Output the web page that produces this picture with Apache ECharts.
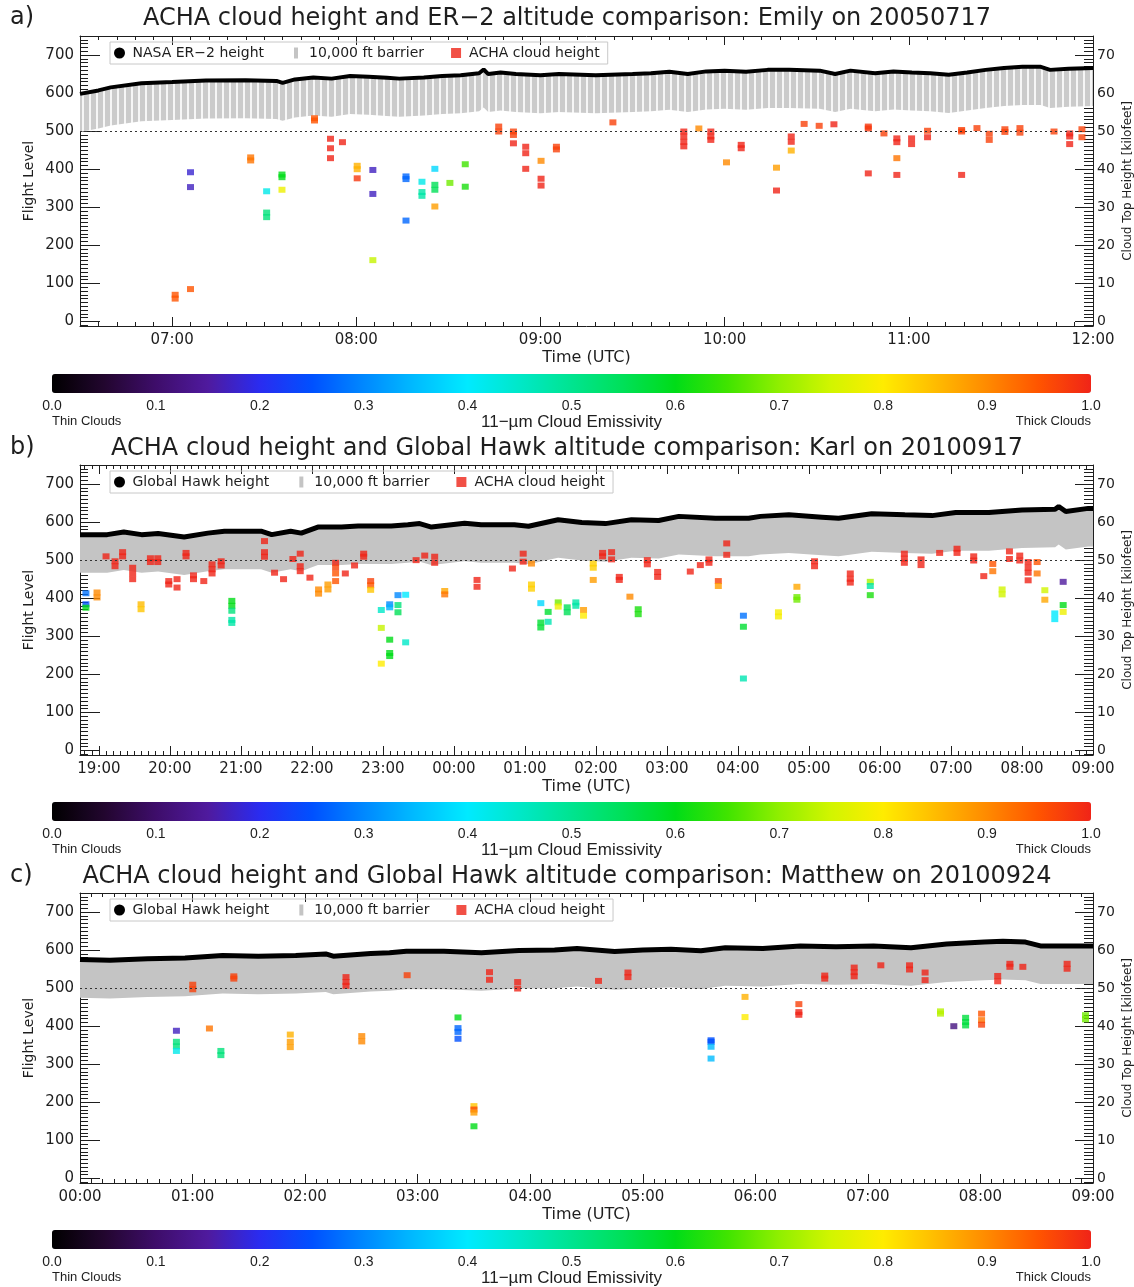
<!DOCTYPE html>
<html><head><meta charset="utf-8">
<script src="https://cdn.jsdelivr.net/npm/echarts@6/dist/echarts.min.js"></script>
<style>html,body{margin:0;padding:0;background:#fff}#chart{width:1134px;height:1287px}</style>
</head><body><div id="chart"></div>
<script>
// ---------------- DATA ----------------
// Times are minutes after 00:00 UTC of the first day of each flight.
const flightTimeA = [390,396,400,410,420,431,444,454,456,460,466,472,478,484,490,494,502,508,514,520,521.5,523,527,532,540,546,558,570,576,582,588,594,600,607,614,621,631,636,641,649,655,661,667,673,679,685,691,697,703,706,712,720];
const flightHeightA = [598,607,615,626,629,633,634,632,627,636,641,638,645,643,640,638,641,645,647,652,662,650,654,650,647,650,647,650,652,656,650,657,659,656,661,661,659,650,659,652,657,654,652,648,654,661,666,669,669,661,664,666];

const flightTimeB = [1124,1147,1161,1176,1190,1212,1232,1246,1260,1277,1286,1302,1311,1325,1345,1359,1373,1387,1401,1411,1421,1449,1463,1491,1503,1528,1548,1568,1590,1613,1630,1661,1689,1699,1723,1751,1765,1793,1821,1844,1864,1892,1920,1948,1951,1957,1976,1980];
const flightHeightB = [567,567,574,567,570,561,571,576,576,576,567,576,571,587,587,590,590,590,593,596,587,597,593,593,589,606,599,596,606,604,615,610,610,615,619,613,610,622,619,617,625,625,632,634,641,628,636,636];

const flightTimeC = [0,16,36,56,76,95,115,131,135,155,165,174,194,214,234,253,265,275,285,300,315,331,344,364,384,403,423,443,462,482,492,504,512,521,540];
const flightHeightC = [575,573,577,579,586,584,586,590,584,591,593,597,597,593,599,600,604,600,596,600,602,598,606,604,611,609,611,606,616,621,623,621,611,611,611];

// ACHA cloud retrievals: [time (min), flight level, 11-um emissivity]
const cloudsA = [
[421,70,0.95],[421,60,0.95],[426,85,0.95],[426,392,0.18],[426,353,0.17],
[445.6,431,0.92],[445.6,423,0.92],[450.8,342,0.42],[450.8,286,0.52],[450.8,274,0.52],
[455.8,386,0.6],[455.8,379,0.6],[455.8,346,0.78],[466.4,534,0.95],[466.4,528,0.95],
[471.6,480,1.0],[471.6,455,1.0],[471.6,429,1.0],[475.5,471,1.0],
[480.3,409,0.86],[480.3,400,0.86],[480.3,376,0.98],
[485.4,398,0.17],[485.4,335,0.17],[485.4,161,0.74],
[496.2,381,0.27],[496.2,374,0.27],[496.2,265,0.27],
[501.4,367,0.42],[501.4,340,0.48],[501.4,330,0.48],
[505.6,401,0.38],[505.6,359,0.55],[505.6,346,0.55],[505.6,302,0.88],
[510.5,364,0.68],[515.5,413,0.65],[515.5,354,0.62],
[526.4,512,0.97],[526.4,499,0.97],[531.2,499,0.97],[531.2,490,0.97],[531.2,468,1.0],
[535.2,459,1.0],[535.2,442,1.0],[535.2,401,1.0],[540.2,422,0.9],[540.2,375,1.0],[540.2,357,1.0],
[545.2,459,0.97],[545.2,452,0.97],[563.6,523,0.97],
[586.7,499,1.0],[586.7,486,1.0],[586.7,472,1.0],[586.7,460,1.0],[591.6,507,0.9],
[595.5,499,1.0],[595.5,486,1.0],[595.5,477,1.0],[600.6,418,0.9],[605.4,464,1.0],[605.4,455,1.0],
[616.9,404,0.88],[616.9,344,1.0],[621.7,486,1.0],[621.7,472,1.0],[621.7,449,0.86],
[625.9,519,0.97],[630.8,514,0.97],[635.6,518,1.0],
[646.8,512,0.98],[646.8,507,0.98],[646.8,389,1.0],[651.9,494,0.97],
[656.1,481,1.0],[656.1,471,1.0],[656.1,429,0.92],[656.1,385,1.0],[660.9,481,1.0],[660.9,466,1.0],
[666.1,501,0.97],[666.1,484,1.0],[677.2,503,0.97],[677.2,499,0.97],[677.2,385,1.0],
[682.2,508,0.97],[686.2,493,0.97],[686.2,477,0.97],[691.3,505,0.97],[691.3,498,0.97],
[696.2,508,0.97],[696.2,496,0.97],[707.3,499,0.97],[712.4,494,1.0],[712.4,486,1.0],[712.4,466,1.0],
[716.4,505,0.97],[716.4,484,0.97]
];
const cloudsB = [
[1129,413,0.28],[1129,384,0.25],[1129,375,0.6],[1138.4,415,0.9],[1138.4,402,0.9],
[1146,510,1.0],[1153.6,497,1.0],[1153.6,484,1.0],[1160,521,1.0],[1160,510,1.0],
[1168.5,480,1.0],[1168.5,465,1.0],[1168.5,450,1.0],[1175.6,384,0.85],[1175.6,371,0.84],
[1183.5,505,1.0],[1183.5,495,1.0],[1189.7,505,1.0],[1189.7,495,1.0],
[1199,445,1.0],[1199,436,1.0],[1206,450,1.0],[1206,428,1.0],[1213.6,519,1.0],[1213.6,510,1.0],
[1219.9,460,1.0],[1219.9,450,1.0],[1228.6,445,1.0],[1235.6,489,1.0],[1235.6,476,1.0],[1235.6,465,1.0],
[1243.3,497,1.0],[1243.3,486,1.0],
[1252.3,393,0.6],[1252.3,380,0.6],[1252.3,367,0.52],[1252.3,343,0.48],[1252.3,335,0.48],
[1279.9,550,1.0],[1279.9,521,1.0],[1279.9,509,1.0],[1288.4,467,1.0],[1296,450,1.0],[1303.9,503,1.0],
[1310.1,517,1.0],[1310.1,484,1.0],[1310.1,471,1.0],[1318.3,454,1.0],
[1325.6,423,0.9],[1325.6,412,0.9],[1333.5,436,0.88],[1333.5,423,0.88],
[1340,493,1.0],[1340,480,0.97],[1340,465,0.95],[1340,445,0.95],[1348.2,465,1.0],[1356,486,1.0],
[1363.7,517,1.0],[1363.7,509,1.0],[1369.6,445,0.97],[1369.6,434,0.95],[1369.6,422,0.84],
[1378.6,369,0.45],[1378.6,322,0.74],[1378.6,228,0.8],
[1385.7,384,0.3],[1385.7,376,0.34],[1385.7,291,0.6],[1385.7,256,0.6],[1385.7,248,0.6],
[1392.7,408,0.3],[1392.7,382,0.52],[1392.7,363,0.55],[1399.2,409,0.4],[1399.2,284,0.45],
[1408,500,1.0],[1415.3,512,1.0],[1423.7,509,1.0],[1423.7,493,1.0],[1432.2,419,0.87],[1432.2,410,0.92],
[1459.5,448,1.0],[1459.5,430,1.0],[1489.4,478,1.0],[1498.5,517,1.0],[1498.5,496,1.0],
[1505.5,491,0.9],[1505.5,436,0.83],[1505.5,425,0.83],
[1513.4,387,0.38],[1513.4,336,0.58],[1513.4,323,0.58],[1519.6,364,0.58],[1519.6,338,0.47],
[1528.1,389,0.68],[1528.1,378,0.78],[1535.7,376,0.55],[1535.7,363,0.55],[1543,389,0.48],[1543,380,0.48],
[1549.5,369,0.88],[1549.5,354,0.8],[1557.7,491,0.83],[1557.7,480,0.83],[1557.7,448,0.88],
[1565.6,519,1.0],[1565.6,510,1.0],[1573.2,521,1.0],[1573.2,502,1.0],[1579.7,456,1.0],[1579.7,448,1.0],
[1588.7,404,0.9],[1595.7,371,0.62],[1595.7,358,0.62],[1603.4,500,1.0],[1603.4,489,1.0],
[1612.1,469,1.0],[1612.1,456,1.0],[1639.7,470,1.0],[1648.2,487,1.0],[1655.5,502,1.0],[1655.5,493,1.0],
[1663.4,445,0.97],[1663.4,432,0.88],[1670.5,544,1.0],[1670.5,514,1.0],
[1684.6,354,0.28],[1684.6,325,0.58],[1684.6,189,0.47],
[1714.2,363,0.79],[1714.2,352,0.79],[1729.8,430,0.87],[1729.8,403,0.68],[1729.8,396,0.68],
[1744.7,497,1.0],[1744.7,484,1.0],[1774.9,465,1.0],[1774.9,451,1.0],[1774.9,441,1.0],
[1791.8,443,0.72],[1791.8,432,0.48],[1791.8,408,0.62],
[1820.6,517,1.0],[1820.6,504,1.0],[1820.6,493,1.0],[1834.7,502,1.0],[1834.7,487,1.0],
[1850.4,519,1.0],[1865.1,530,1.0],[1865.1,519,1.0],[1879.2,510,1.0],[1879.2,499,1.0],[1887.7,458,1.0],
[1895.3,490,0.95],[1895.3,471,0.92],[1903.2,423,0.75],[1903.2,410,0.75],
[1909.4,523,1.0],[1909.4,503,1.0],[1918.1,512,1.0],[1918.1,499,1.0],
[1925.2,495,1.0],[1925.2,480,1.0],[1925.2,467,1.0],[1925.2,447,1.0],[1932.8,495,0.95],[1932.8,465,0.92],
[1939.3,421,0.75],[1939.3,396,0.87],[1947.7,360,0.4],[1947.7,345,0.4],
[1954.8,443,0.15],[1954.8,382,0.6],[1954.8,364,0.78]
];
const cloudsC = [
[51.4,388,0.17],[51.4,359,0.52],[51.4,347,0.52],[51.4,335,0.42],[60.1,509,0.97],[60.1,497,0.97],
[69,394,0.92],[75.1,335,0.52],[75.1,324,0.52],[82,531,0.97],[82,525,0.97],
[112.1,378,0.86],[112.1,359,0.88],[112.1,345,0.88],[141.8,529,1.0],[141.8,516,1.0],[141.8,506,1.0],
[150.2,374,0.9],[150.2,360,0.9],[174.4,534,0.97],
[201.5,423,0.6],[201.5,395,0.27],[201.5,385,0.27],[201.5,367,0.25],
[210,190,0.84],[210,181,0.96],[210,173,0.88],[210,137,0.6],
[218.3,542,1.0],[218.3,522,1.0],[233.3,516,1.0],[233.3,499,1.0],[276.4,519,1.0],
[292.1,541,1.0],[292.1,529,1.0],[336.4,363,0.25],[336.4,359,0.25],[336.4,346,0.35],[336.4,315,0.35],
[354.5,477,0.86],[354.5,424,0.8],[383.2,458,0.97],[383.2,437,1.0],[383.2,430,1.0],
[397,533,1.0],[397,525,1.0],[412.7,554,1.0],[412.7,542,1.0],[412.7,531,1.0],[426.9,560,1.0],
[442.2,560,1.0],[442.2,549,1.0],[450.5,541,1.0],[450.5,521,1.0],[458.7,439,0.73],[458.7,433,0.73],
[465.8,400,0.12],[472.1,422,0.57],[472.1,411,0.57],[472.1,402,0.57],
[480.6,433,0.95],[480.6,416,0.92],[480.6,404,0.97],[489.2,532,1.0],[489.2,518,1.0],
[495.7,564,1.0],[495.7,556,1.0],[502.6,556,1.0],[526.2,564,1.0],[526.2,551,1.0],[536,429,0.68],[536,418,0.68]
];

const hourTicksA = ['07:00','08:00','09:00','10:00','11:00','12:00'];
const hourTicksB = ['19:00','20:00','21:00','22:00','23:00','00:00','01:00','02:00','03:00','04:00','05:00','06:00','07:00','08:00','09:00'];
const hourTicksC = ['00:00','01:00','02:00','03:00','04:00','05:00','06:00','07:00','08:00','09:00'];
const flTicks = [0,100,200,300,400,500,600,700];
const kftTicks = [0,10,20,30,40,50,60,70];
const emisTicks = ['0.0','0.1','0.2','0.3','0.4','0.5','0.6','0.7','0.8','0.9','1.0'];
const BARRIER_FL = 100;      // 10,000 ft
const REFERENCE_FL = 500;

// ---------------- STYLE ----------------
const FONT = "'DejaVu Sans', 'Liberation Sans', sans-serif";
const NFONT = "'Liberation Sans', Arial, sans-serif";
const INK = '#1e1e1e';
const GREY = '#c4c4c4';
const RED = '#ee2418';
const RAINBOW = ['#000000','#22062e','#3e0d6a','#4f1a9e','#2a2cf0','#0050ff','#0088ff','#00bcff','#00eaff','#00e8c8','#00e490','#00e058','#00dc18','#40e400','#90ef00','#d2f500','#ffec00','#ffbc00','#ff8a00','#ff5400','#f02418'];

const stripe = document.createElement('canvas');
stripe.width = 7; stripe.height = 4;
const sctx = stripe.getContext('2d');
sctx.fillStyle = '#f6f6f6'; sctx.fillRect(0,0,7,4);
sctx.fillStyle = '#cbcbcb'; sctx.fillRect(0,0,5,4);

const panels = [
 {key:'a', label:'a)', title:'ACHA cloud height and ER\u22122 altitude comparison: Emily on 20050717', plane:'NASA ER\u22122 height',
  top:36, titleTop:7, legendTop:42, cb:374, tMin:390, tMax:720, roll:false, ticks:hourTicksA,
  ft:flightTimeA, fh:flightHeightA, clouds:cloudsA, striped:true, lw:4},
 {key:'b', label:'b)', title:'ACHA cloud height and Global Hawk altitude comparison: Karl on 20100917', plane:'Global Hawk height',
  top:465, titleTop:437, legendTop:471, cb:802, tMin:1124, tMax:1980, roll:true, ticks:hourTicksB,
  ft:flightTimeB, fh:flightHeightB, clouds:cloudsB, striped:false, lw:5},
 {key:'c', label:'c)', title:'ACHA cloud height and Global Hawk altitude comparison: Matthew on 20100924', plane:'Global Hawk height',
  top:893, titleTop:865, legendTop:899, cb:1230, tMin:0, tMax:540, roll:false, ticks:hourTicksC,
  ft:flightTimeC, fh:flightHeightC, clouds:cloudsC, striped:false, lw:5}
];

function parseHM(s, roll){ const p = s.split(':').map(Number); return ((roll && p[0] < 12) ? p[0]+24 : p[0])*60 + p[1]; }

const option = {animation:false, backgroundColor:'#fff', textStyle:{fontFamily:FONT},
  title:[], legend:[], grid:[], xAxis:[], yAxis:[], series:[], visualMap:[], graphic:[]};

const CIRCLE_ICON = 'circle';
const BAR_ICON = 'path://M0,0L0,0M16,11L16,11M6,0L10,0L10,11L6,11Z';
const SQUARE_ICON = 'path://M0,0L0,0M16,11L16,11M3,0.5L13,0.5L13,10.5L3,10.5Z';

panels.forEach(p => {
  const gi = option.grid.length;
  option.grid.push({left:80, top:p.top, width:1013, height:290, outerBoundsMode:'none', containLabel:false});
  const xi = option.xAxis.length, yi = option.yAxis.length;
  const hourVals = p.ticks.map(s => parseHM(s, p.roll));
  const labelOf = {}; hourVals.forEach((v,k) => labelOf[v] = p.ticks[k]);
  const minorX = [];
  for (let m = Math.ceil(p.tMin/6)*6; m <= p.tMax; m += 6) if (hourVals.indexOf(m) < 0) minorX.push(m);
  const lineOn = {show:true, onZero:false, lineStyle:{color:INK, width:1}};
  const lineOff = {show:false, onZero:false};
  const tk = (len, vals) => ({show:true, inside:true, length:len, customValues:vals, lineStyle:{color:INK, width:1}});
  const xb = {type:'value', gridIndex:gi, min:p.tMin, max:p.tMax, splitLine:{show:false}};
  option.xAxis.push(
    Object.assign({}, xb, {position:'bottom', axisLine:lineOn, axisTick:tk(9, hourVals),
      axisLabel:{customValues:hourVals, formatter:v => labelOf[v] || '', fontSize:15, color:INK, fontFamily:FONT, margin:7},
      name:'Time (UTC)', nameLocation:'middle', nameGap:24, nameMoveOverlap:false, nameTextStyle:{fontSize:16, color:INK, fontFamily:FONT}}),
    Object.assign({}, xb, {position:'bottom', axisLine:lineOff, axisTick:tk(4, minorX), axisLabel:{show:false}}),
    Object.assign({}, xb, {position:'top', axisLine:lineOn, axisTick:tk(9, hourVals), axisLabel:{show:false}}),
    Object.assign({}, xb, {position:'top', axisLine:lineOff, axisTick:tk(4, minorX), axisLabel:{show:false}})
  );
  const minorFL = []; for (let v = -10; v <= 740; v += 10) if (v % 100 !== 0) minorFL.push(v);
  const minorK = []; for (let v = -1; v <= 74; v += 1) if (v % 10 !== 0) minorK.push(v);
  const yb = {type:'value', gridIndex:gi, splitLine:{show:false}};
  option.yAxis.push(
    Object.assign({}, yb, {position:'left', min:-12, max:750, axisLine:lineOn, axisTick:tk(20, flTicks),
      axisLabel:{customValues:flTicks, fontSize:15, color:INK, fontFamily:FONT, margin:6},
      name:'Flight Level', nameLocation:'middle', nameGap:44, nameRotate:90, nameMoveOverlap:false, nameTextStyle:{fontSize:14, color:INK, fontFamily:FONT}}),
    Object.assign({}, yb, {position:'left', min:-12, max:750, axisLine:lineOff, axisTick:tk(8, minorFL), axisLabel:{show:false}}),
    Object.assign({}, yb, {position:'right', min:-1.2, max:75, axisLine:lineOn, axisTick:tk(18, kftTicks),
      axisLabel:{customValues:kftTicks, fontSize:14, color:INK, fontFamily:FONT, margin:4},
      name:'Cloud Top Height [kilofeet]', nameLocation:'middle', nameGap:29, nameRotate:90, nameMoveOverlap:false, nameTextStyle:{fontSize:12, color:INK, fontFamily:FONT}}),
    Object.assign({}, yb, {position:'right', min:-1.2, max:75, axisLine:lineOff, axisTick:tk(9, minorK), axisLabel:{show:false}})
  );

  // 10,000 ft barrier: band from (aircraft height - 100 FL) up to aircraft height
  const bandFill = p.striped ? {image:stripe, repeat:'repeat'} : GREY;
  option.series.push({type:'custom', name:'10,000 ft barrier', xAxisIndex:xi, yAxisIndex:yi, silent:true, z:1, clip:true,
    data:p.ft.map((t,k) => [t, p.fh[k] - BARRIER_FL, p.fh[k]]),
    encode:{x:0, y:[1,2]},
    renderItem:(params, api) => {
      if (params.dataIndex !== 0) return null;
      const n = params.dataInsideLength, top = [], bot = [];
      for (let k = 0; k < n; k++) {
        top.push(api.coord([api.value(0,k), api.value(2,k)]));
        bot.push(api.coord([api.value(0,k), api.value(1,k)]));
      }
      return {type:'polygon', shape:{points: top.concat(bot.reverse())}, style:{fill:bandFill, stroke:null}};
    }});
  const si = option.series.length;
  option.series.push({type:'scatter', name:'ACHA cloud height', xAxisIndex:xi, yAxisIndex:yi, data:p.clouds,
    symbol:'rect', symbolSize:[7,6], itemStyle:{color:RED}, z:3, silent:true});
  option.series.push({type:'line', name:p.plane, xAxisIndex:xi, yAxisIndex:yi, symbol:'none', silent:true,
    data:p.ft.map((t,k) => [t, p.fh[k]]), lineStyle:{color:'#000', width:p.lw}, z:4,
    markLine:{silent:true, symbol:['none','none'], label:{show:false}, animation:false,
      lineStyle:{type:[2,3], color:'#333', width:1}, data:[{yAxis:REFERENCE_FL}]}});

  option.visualMap.push({type:'continuous', seriesIndex:si, dimension:2, min:0, max:1, orient:'horizontal',
    left:52, top:p.cb, itemWidth:19, itemHeight:1039, calculable:false, hoverLink:false, padding:0,
    inRange:{color:RAINBOW}});

  // colour-bar scale
  const cg = option.grid.length;
  option.grid.push({left:52, top:p.cb, width:1039, height:19, outerBoundsMode:'none', containLabel:false});
  const cbVals = emisTicks.map(Number);
  option.xAxis.push({type:'value', gridIndex:cg, min:0, max:1, position:'bottom', splitLine:{show:false},
    axisLine:{show:false, onZero:false}, axisTick:{show:false},
    axisLabel:{customValues:cbVals, formatter:v => emisTicks[Math.round(v*10)], fontSize:14, color:INK, fontFamily:NFONT, margin:6},
    name:'11\u2212\u00b5m Cloud Emissivity', nameLocation:'middle', nameGap:21, nameMoveOverlap:false, nameTextStyle:{fontSize:17, color:INK, fontFamily:NFONT}});
  option.yAxis.push({type:'value', gridIndex:cg, min:0, max:1, show:false});

  option.graphic.push(
    {type:'text', left:52, top:p.cb+41, style:{text:'Thin Clouds', font:"13px 'Liberation Sans', Arial", fill:INK}},
    {type:'text', right:43, top:p.cb+41, style:{text:'Thick Clouds', font:"13px 'Liberation Sans', Arial", fill:INK}}
  );

  option.title.push(
    {text:p.title, left:'center', top:p.titleTop, padding:0, textStyle:{fontFamily:FONT, fontSize:24, fontWeight:'normal', color:INK}},
    {text:p.label, left:10, top:p.titleTop-1, padding:0, textStyle:{fontFamily:FONT, fontSize:24, fontWeight:'normal', color:INK}}
  );

  option.legend.push({left:110, top:p.legendTop, orient:'horizontal', padding:[4,8,4,4], itemGap:24,
    itemWidth:16, itemHeight:11, borderColor:'#c8c8c8', borderWidth:1, selectedMode:false,
    textStyle:{fontSize:14, fontFamily:FONT, color:INK},
    data:[{name:p.plane, icon:CIRCLE_ICON, itemStyle:{color:'#000'}},
          {name:'10,000 ft barrier', icon:BAR_ICON, itemStyle:{color:GREY}},
          {name:'ACHA cloud height', icon:SQUARE_ICON, itemStyle:{color:RED}}]});
});

const chart = echarts.init(document.getElementById('chart'), null, {renderer:'canvas'});
chart.setOption(option);
</script></body></html>
